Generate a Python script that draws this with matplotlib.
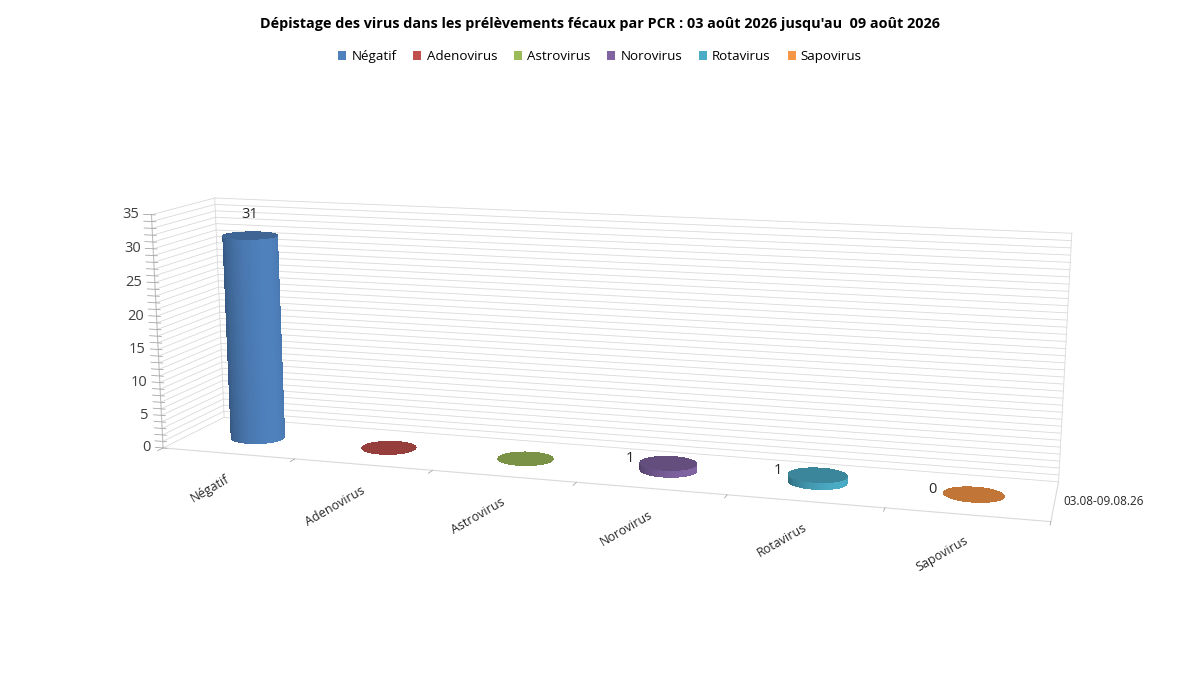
import numpy as np
import matplotlib.pyplot as plt
from matplotlib.colors import to_rgb
from matplotlib.patches import Patch
from mpl_toolkits.mplot3d import proj3d

categories = ["Négatif", "Adenovirus", "Astrovirus", "Norovirus", "Rotavirus", "Sapovirus"]
values = [31, 0, 0, 1, 1, 0]
value_labels = ["31", "", "", "1", "1", "0"]
colors = ["#4F81BD", "#C0504D", "#9BBB59", "#8064A2", "#4BACC6", "#F79646"]
series_label = "03.08-09.08.26"
z_ticks = [0, 5, 10, 15, 20, 25, 30, 35]
title = "Dépistage des virus dans les prélèvements fécaux par PCR : 03 août 2026 jusqu'au  09 août 2026"

plt.rcParams['font.family'] = ['Open Sans', 'DejaVu Sans']

fig = plt.figure(figsize=(12, 6.92), dpi=100)
ax = fig.add_axes([-0.011, -0.013, 1.0, 1.0], projection='3d', proj_type='persp', focal_length=0.5)
ax.set_axis_off()
n = len(categories)
zmax = z_ticks[-1]
ax.set_xlim(0, n)
ax.set_ylim(0, 1)
ax.set_zlim(0, zmax)
ax.set_box_aspect((n, 0.9, 1.63), zoom=1.33)
ax.view_init(elev=12, azim=-73.5)

grid_col = "#d9d9d9"
# back wall and side wall grid lines, one per unit
for z in range(0, zmax + 1):
    ax.plot([0, n], [1, 1], [z, z], color=grid_col, lw=0.6)
    ax.plot([0, 0], [0, 1], [z, z], color=grid_col, lw=0.6)
ax.plot([0, 0], [1, 1], [0, zmax], color=grid_col, lw=0.6)
ax.plot([n, n], [1, 1], [0, zmax], color=grid_col, lw=0.6)
# floor
ax.plot([0, n], [0, 0], [0, 0], color=grid_col, lw=0.8)
ax.plot([n, n], [0, 1], [0, 0], color=grid_col, lw=0.8)
# value axis
ax.plot([0, 0], [0, 0], [0, zmax], color="#bfbfbf", lw=0.8)
for z in range(0, zmax + 1):
    ax.plot([-0.06, 0.03], [0, 0], [z, z], color="#a6a6a6", lw=0.6)
for i in range(n + 1):
    ax.plot([i, i], [0, -0.08], [0, 0], color="#a6a6a6", lw=0.6)

# cylinders
r = 0.19
theta = np.linspace(0, 2 * np.pi, 73)
light = np.deg2rad(-35)
for i, (v, col) in enumerate(zip(values, colors)):
    cx, cy = i + 0.5, 0.5
    base = np.array(to_rgb(col))
    if v > 0:
        th, zz = np.meshgrid(theta, [0, v])
        X = cx + r * np.cos(th)
        Y = cy + r * np.sin(th)
        shade = 0.55 + 0.45 * (0.5 + 0.5 * np.cos(th - light))
        fc = np.clip(base[None, None, :] * shade[..., None], 0, 1)
        fc = np.concatenate([fc, np.ones(fc.shape[:2] + (1,))], axis=2)
        ax.plot_surface(X, Y, zz, facecolors=fc, shade=False, linewidth=0, antialiased=False,
                        rstride=1, cstride=1)
    rr, th = np.meshgrid([0, r], theta)
    top = np.clip(base * 0.78, 0, 1)
    ax.plot_surface(cx + rr * np.cos(th), cy + rr * np.sin(th), np.full_like(rr, v),
                    color=top, shade=False, linewidth=0, antialiased=False, edgecolor='none')

for art in ax.get_children():
    art.set_clip_on(False)

# place texts at projected 3D positions
fig.canvas.draw()
M = ax.get_proj()


def at(x, y, z):
    px, py, _ = proj3d.proj_transform(x, y, z, M)
    return px, py


for z in z_ticks:
    ax.annotate(str(z), at(0, 0, z), xytext=(-9, 0), textcoords='offset points', annotation_clip=False,
                ha='right', va='center', fontsize=10.5, color="#404040")
for i, c in enumerate(categories):
    ax.annotate(c, at(i + 0.5, 0, 0), xytext=(-2, -14), textcoords='offset points', annotation_clip=False,
                ha='right', va='top', rotation=30, rotation_mode='anchor', fontsize=9, color="#262626")
ax.annotate(series_label, at(n, 0.5, 0), xytext=(6, 0), textcoords='offset points', annotation_clip=False,
            ha='left', va='center', fontsize=8.5, color="#262626")
for i, (v, lab) in enumerate(zip(values, value_labels)):
    if not lab:
        continue
    if v > 5:
        ax.annotate(lab, at(i + 0.5, 0.5, v), xytext=(0, 10), textcoords='offset points',
                    annotation_clip=False, ha='center', va='bottom', fontsize=10.5, color="#262626")
    else:
        ax.annotate(lab, at(i + 0.5 - r, 0.5, v), xytext=(-5, 2), textcoords='offset points',
                    annotation_clip=False, ha='right', va='center', fontsize=10.5, color="#262626")

handles = [Patch(facecolor=c, label=l) for c, l in zip(colors, categories)]
fig.legend(handles=handles, loc='upper center', bbox_to_anchor=(0.5, 0.945), ncol=n, frameon=False,
           fontsize=9.6, handlelength=0.6, handleheight=0.6, columnspacing=1.25, handletextpad=0.4)
fig.text(0.5, 0.966, title, ha='center', va='center', fontsize=10.4, fontweight='bold', color="#000000")

fig.savefig("out.png", dpi=100)
